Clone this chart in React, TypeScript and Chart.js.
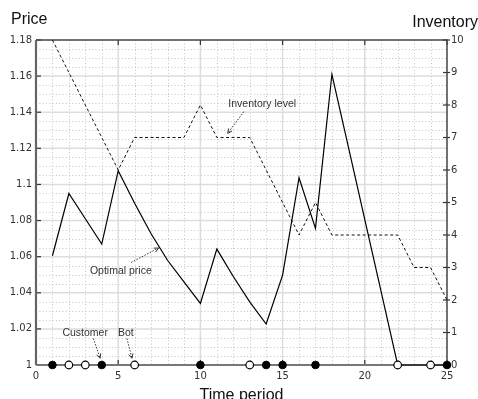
import React, { useEffect, useRef } from "react";
import { Chart, registerables } from "chart.js";

Chart.register(...registerables);

// ---- data ----
const timePeriods = [1, 2, 3, 4, 5, 6, 7, 8, 9, 10, 11, 12, 13, 14, 15, 16, 17, 18, 19, 20, 21, 22, 23, 24, 25];
const optimalPrice = [
  1.0605, 1.095, 1.081, 1.067, 1.1076, 1.0896, 1.0727, 1.058, 1.046, 1.0341,
  1.0642, 1.049, 1.035, 1.0227, 1.0498, 1.1037, 1.0757, 1.161, 1.1208, 1.0805,
  1.0403, 1.0, 1.0, 1.0, 1.0,
];
const inventoryLevel = [10, 9, 8, 7, 6, 7, 7, 7, 7, 8, 7, 7, 7, 6, 5, 4, 5, 4, 4, 4, 4, 4, 3, 3, 2];
const customerPeriods = [1, 4, 10, 14, 15, 17, 25];
const botPeriods = [2, 3, 6, 13, 22, 24];

const xTicks = [0, 5, 10, 15, 20, 25];
const priceTicks = [1, 1.02, 1.04, 1.06, 1.08, 1.1, 1.12, 1.14, 1.16, 1.18];
const inventoryTicks = [0, 1, 2, 3, 4, 5, 6, 7, 8, 9, 10];
const minorXStep = 1;
const minorPriceStep = 0.005;

// annotation texts with arrows, in data units (time, price)
const annotationLabels = ["Inventory level", "Optimal price", "Customer", "Bot"];
const annotationText = [
  [13.76, 1.1444],
  [5.16, 1.0519],
  [2.99, 1.0178],
  [5.46, 1.0178],
];
const annotationArrowFrom = [
  [12.64, 1.1403],
  [5.79, 1.0568],
  [3.49, 1.0147],
  [5.53, 1.0147],
];
const annotationArrowTo = [
  [11.66, 1.1283],
  [7.46, 1.0648],
  [3.9, 1.0037],
  [5.84, 1.0037],
];

const TICK_FONT = { family: "DejaVu Sans", size: 10 };
const TICK_COLOR = "#333";

const fmtPrice = (v: number) => String(parseFloat(Number(v).toFixed(2)));

const decorPlugin = {
  id: "decor",
  beforeDatasetsDraw(chart: any) {
    const { ctx, chartArea } = chart;
    const { left, right, top, bottom } = chartArea;
    const xs = chart.scales.x;
    const ys = chart.scales.y;
    const y2 = chart.scales.y2;
    ctx.save();
    // minor dotted grid
    ctx.strokeStyle = "#c4c4c4";
    ctx.lineWidth = 1;
    ctx.setLineDash([1, 2.3]);
    for (let t = 0; t <= 25 + 1e-9; t += minorXStep) {
      if (Math.abs(t % 5) < 1e-9) continue;
      const px = Math.round(xs.getPixelForValue(t)) + 0.5;
      ctx.beginPath();
      ctx.moveTo(px, top);
      ctx.lineTo(px, bottom);
      ctx.stroke();
    }
    for (let i = 0; i <= 36; i++) {
      if (i % 4 === 0) continue;
      const p = 1 + i * minorPriceStep;
      const py = Math.round(ys.getPixelForValue(p)) + 0.5;
      ctx.beginPath();
      ctx.moveTo(left, py);
      ctx.lineTo(right, py);
      ctx.stroke();
    }
    ctx.setLineDash([]);
    // major grid
    ctx.strokeStyle = "#dddddd";
    ctx.lineWidth = 1.5;
    xTicks.forEach((t) => {
      if (t === 0 || t === 25) return;
      const px = xs.getPixelForValue(t);
      ctx.beginPath();
      ctx.moveTo(px, top);
      ctx.lineTo(px, bottom);
      ctx.stroke();
    });
    priceTicks.forEach((p) => {
      if (p === 1 || p === 1.18) return;
      const py = ys.getPixelForValue(p);
      ctx.beginPath();
      ctx.moveTo(left, py);
      ctx.lineTo(right, py);
      ctx.stroke();
    });
    // tick marks
    ctx.strokeStyle = "#333";
    ctx.lineWidth = 1.2;
    priceTicks.forEach((p) => {
      const py = ys.getPixelForValue(p);
      ctx.beginPath();
      ctx.moveTo(left, py);
      ctx.lineTo(left + 5, py);
      ctx.stroke();
    });
    xTicks.forEach((t) => {
      const px = xs.getPixelForValue(t);
      ctx.beginPath();
      ctx.moveTo(px, top);
      ctx.lineTo(px, top + 5);
      ctx.moveTo(px, bottom);
      ctx.lineTo(px, bottom - 5);
      ctx.stroke();
    });
    inventoryTicks.forEach((v) => {
      const py = y2.getPixelForValue(v);
      ctx.beginPath();
      ctx.moveTo(right - 4, py);
      ctx.lineTo(right + 3, py);
      ctx.stroke();
    });
    // frame
    ctx.strokeStyle = "#444";
    ctx.lineWidth = 1.5;
    ctx.beginPath();
    ctx.moveTo(left, top);
    ctx.lineTo(right, top);
    ctx.lineTo(right, bottom);
    ctx.stroke();
    ctx.strokeStyle = "#777";
    ctx.lineWidth = 2;
    ctx.beginPath();
    ctx.moveTo(right, bottom);
    ctx.lineTo(left, bottom);
    ctx.stroke();
    ctx.strokeStyle = "#666";
    ctx.lineWidth = 2.2;
    ctx.beginPath();
    ctx.moveTo(left, bottom);
    ctx.lineTo(left, top);
    ctx.stroke();
    ctx.restore();
  },
  afterDatasetsDraw(chart: any) {
    const { ctx, chartArea } = chart;
    const xs = chart.scales.x;
    const ys = chart.scales.y;
    ctx.save();
    // annotations
    ctx.fillStyle = "#333";
    ctx.font = "10.5px 'Liberation Sans', Arial, sans-serif";
    ctx.textAlign = "center";
    ctx.textBaseline = "middle";
    annotationLabels.forEach((label, i) => {
      const tx = xs.getPixelForValue(annotationText[i][0]);
      const ty = ys.getPixelForValue(annotationText[i][1]);
      ctx.fillText(label, tx, ty);
      const x1 = xs.getPixelForValue(annotationArrowFrom[i][0]);
      const y1 = ys.getPixelForValue(annotationArrowFrom[i][1]);
      const x2 = xs.getPixelForValue(annotationArrowTo[i][0]);
      const y2p = ys.getPixelForValue(annotationArrowTo[i][1]);
      ctx.strokeStyle = "#333";
      ctx.lineWidth = 1;
      ctx.setLineDash([1.5, 1.5]);
      ctx.beginPath();
      ctx.moveTo(x1, y1);
      ctx.lineTo(x2, y2p);
      ctx.stroke();
      ctx.setLineDash([]);
      const ang = Math.atan2(y2p - y1, x2 - x1);
      const hl = 5;
      ctx.beginPath();
      ctx.moveTo(x2 - hl * Math.cos(ang - 0.45), y2p - hl * Math.sin(ang - 0.45));
      ctx.lineTo(x2, y2p);
      ctx.lineTo(x2 - hl * Math.cos(ang + 0.45), y2p - hl * Math.sin(ang + 0.45));
      ctx.stroke();
    });
    // axis titles
    ctx.fillStyle = "#111";
    ctx.font = "16px 'Liberation Sans', Arial, sans-serif";
    ctx.textBaseline = "alphabetic";
    ctx.textAlign = "left";
    ctx.fillText("Price", 11, 24);
    ctx.textAlign = "right";
    ctx.fillText("Inventory", 478, 27);
    ctx.textAlign = "center";
    ctx.fillText("Time period", (chartArea.left + chartArea.right) / 2, 400);
    ctx.restore();
  },
};

export default function App() {
  const canvasRef = useRef<HTMLCanvasElement | null>(null);

  useEffect(() => {
    const canvas = canvasRef.current;
    if (!canvas) return;
    const chart = new Chart(canvas, {
      type: "line",
      data: {
        datasets: [
          {
            label: "Customer",
            data: customerPeriods.map((t) => ({ x: t, y: 1 })),
            yAxisID: "y",
            showLine: false,
            pointRadius: 3.8,
            pointBackgroundColor: "#000",
            pointBorderColor: "#000",
            pointBorderWidth: 1,
            clip: false,
            order: 0,
          },
          {
            label: "Bot",
            data: botPeriods.map((t) => ({ x: t, y: 1 })),
            yAxisID: "y",
            showLine: false,
            pointRadius: 3.8,
            pointBackgroundColor: "#fff",
            pointBorderColor: "#000",
            pointBorderWidth: 1.2,
            clip: false,
            order: 0,
          },
          {
            label: "Optimal price",
            data: timePeriods.map((t, i) => ({ x: t, y: optimalPrice[i] })),
            yAxisID: "y",
            borderColor: "#000",
            borderWidth: 1.2,
            pointRadius: 0,
            tension: 0,
            fill: false,
            clip: false,
            order: 1,
          },
          {
            label: "Inventory level",
            data: timePeriods.map((t, i) => ({ x: t, y: inventoryLevel[i] })),
            yAxisID: "y2",
            borderColor: "#111",
            borderWidth: 1,
            borderDash: [3, 2.5],
            pointRadius: 0,
            tension: 0,
            fill: false,
            clip: false,
            order: 2,
          },
        ],
      },
      options: {
        responsive: false,
        animation: false,
        layout: { padding: { top: 40, left: 0, right: 0, bottom: 0 } },
        plugins: { legend: { display: false }, tooltip: { enabled: false }, title: { display: false } },
        scales: {
          x: {
            type: "linear",
            min: 0,
            max: 25,
            afterBuildTicks: (s: any) => {
              s.ticks = xTicks.map((v) => ({ value: v }));
            },
            afterFit: (s: any) => {
              s.height = 34;
            },
            grid: { display: false, drawTicks: false },
            border: { display: false },
            ticks: {
              padding: 5,
              font: TICK_FONT,
              color: TICK_COLOR,
              maxRotation: 0,
              autoSkip: false,
              callback: (v: any) => String(v),
            },
          },
          y: {
            type: "linear",
            position: "left",
            min: 1,
            max: 1.18,
            afterBuildTicks: (s: any) => {
              s.ticks = priceTicks.map((v) => ({ value: v }));
            },
            afterFit: (s: any) => {
              s.width = 36;
            },
            grid: { display: false, drawTicks: false },
            border: { display: false },
            ticks: {
              padding: 4,
              font: TICK_FONT,
              color: TICK_COLOR,
              autoSkip: false,
              callback: (v: any) => fmtPrice(v),
            },
          },
          y2: {
            type: "linear",
            position: "right",
            min: 0,
            max: 10,
            afterBuildTicks: (s: any) => {
              s.ticks = inventoryTicks.map((v) => ({ value: v }));
            },
            afterFit: (s: any) => {
              s.width = 31;
            },
            grid: { display: false, drawTicks: false },
            border: { display: false },
            ticks: {
              padding: 4,
              font: TICK_FONT,
              color: TICK_COLOR,
              autoSkip: false,
              callback: (v: any) => String(v),
            },
          },
        },
      } as any,
      plugins: [decorPlugin],
    });
    return () => chart.destroy();
  }, []);

  return (
    <div style={{ position: "absolute", left: 0, top: 0, width: 478, height: 399, background: "#fff" }}>
      <canvas ref={canvasRef} width={478} height={399} style={{ display: "block", width: 478, height: 399 }} />
    </div>
  );
}
